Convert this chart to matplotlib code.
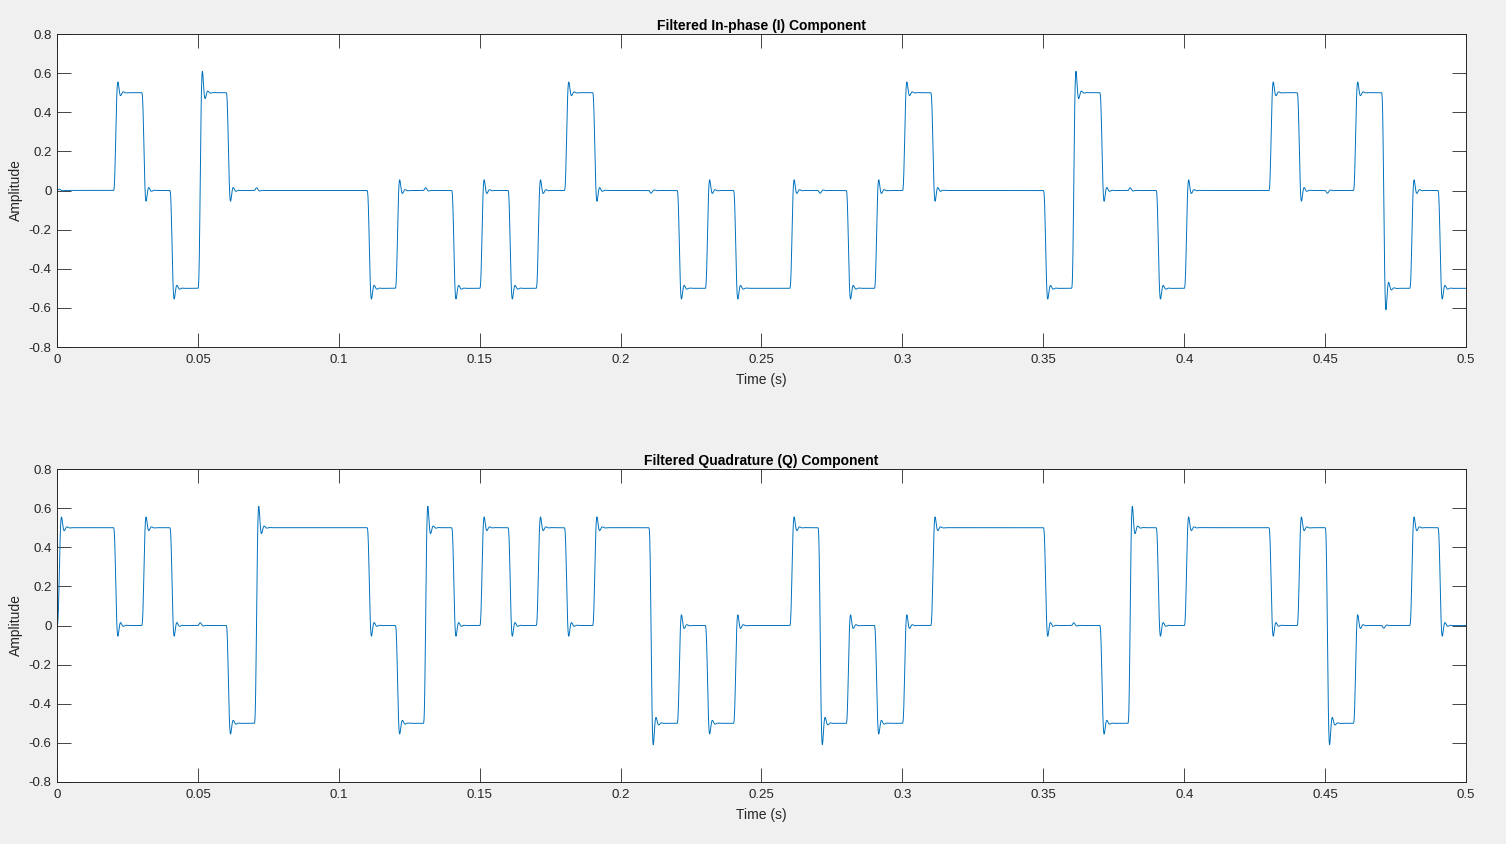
import numpy as np
import matplotlib.pyplot as plt

plt.rcParams['font.family'] = ['Liberation Sans', 'DejaVu Sans']

# symbol levels, one per 10 ms slot
symbol_period = 0.01
i_symbols = [0, 0, 0.5, 0, -0.5, 0.5, 0, 0, 0, 0,
             0, -0.5, 0, 0, -0.5, 0, -0.5, 0, 0.5, 0,
             0, 0, -0.5, 0, -0.5, -0.5, 0, 0, -0.5, 0,
             0.5, 0, 0, 0, 0, -0.5, 0.5, 0, 0, -0.5,
             0, 0, 0, 0.5, 0, 0, 0.5, -0.5, 0, -0.5]
q_symbols = [0.5, 0.5, 0, 0.5, 0, 0, -0.5, 0.5, 0.5, 0.5,
             0.5, 0, -0.5, 0.5, 0, 0.5, 0, 0.5, 0, 0.5,
             0.5, -0.5, 0, -0.5, 0, 0, 0.5, -0.5, 0, -0.5,
             0, 0.5, 0.5, 0.5, 0.5, 0, 0, -0.5, 0.5, 0,
             0.5, 0.5, 0.5, 0, 0.5, -0.5, 0, 0, 0.5, 0]

fs = 20000
fc = 550
order = 4
crosstalk_peak = 0.014


# ------------------------------------------------------------
# lowpass (butterworth via bilinear transform, biquad cascade)
# ------------------------------------------------------------
def butter_sections(order, fc, fs):
    wc = 2 * fs * np.tan(np.pi * fc / fs)
    sections = []
    for k in range(order // 2):
        theta = np.pi * (2 * k + 1 + order) / (2 * order)
        p = wc * np.exp(1j * theta)
        zp = (1 + p / (2 * fs)) / (1 - p / (2 * fs))
        a = np.real(np.poly([zp, np.conj(zp)]))
        b = np.array([1.0, 2.0, 1.0])
        b = b * a.sum() / b.sum()
        sections.append((b, a))
    return sections


def run_filter(x, sections):
    y = np.asarray(x, dtype=float)
    for b, a in sections:
        out = np.zeros_like(y)
        x1 = x2 = y1 = y2 = 0.0
        for n in range(len(y)):
            v = b[0] * y[n] + b[1] * x1 + b[2] * x2 - a[1] * y1 - a[2] * y2
            x2, x1 = x1, y[n]
            y2, y1 = y1, v
            out[n] = v
        y = out
    return y


sections = butter_sections(order, fc, fs)
spb = int(round(symbol_period * fs))
t = np.arange(len(i_symbols) * spb + 1) / fs

i_raw = np.append(np.repeat(i_symbols, spb), i_symbols[-1])
q_raw = np.append(np.repeat(q_symbols, spb), q_symbols[-1])

i_filt = run_filter(i_raw, sections)
q_filt = run_filter(q_raw, sections)

# small leakage between branches at the big symbol flips
step_resp = run_filter(np.ones(spb), sections)
k = crosstalk_peak / np.max(np.diff(step_resp))
i_out = i_filt + k * np.gradient(q_filt)
q_out = q_filt + k * np.gradient(i_filt)

# ------------------------------------------------------------
# plot
# ------------------------------------------------------------
fig = plt.figure(figsize=(15.06, 8.44), dpi=100, facecolor='#f0f0f0')
ax1 = fig.add_axes([57 / 1506, 1 - 347 / 844, 1409 / 1506, 313 / 844])
ax2 = fig.add_axes([57 / 1506, 1 - 782 / 844, 1409 / 1506, 313 / 844])

panels = [(ax1, i_out, 'Filtered In-phase (I) Component'),
          (ax2, q_out, 'Filtered Quadrature (Q) Component')]

for ax, sig, title in panels:
    ax.plot(t, sig, color='#0072BD', linewidth=0.7)
    ax.set_xlim(0, 0.5)
    ax.set_ylim(-0.8, 0.8)
    ax.set_xticks(np.arange(0, 0.501, 0.05))
    ax.set_xticklabels(['0', '0.05', '0.1', '0.15', '0.2', '0.25', '0.3',
                        '0.35', '0.4', '0.45', '0.5'])
    ax.set_yticks(np.arange(-0.8, 0.801, 0.2))
    ax.set_yticklabels(['-0.8', '-0.6', '-0.4', '-0.2', '0', '0.2', '0.4',
                        '0.6', '0.8'])
    ax.tick_params(direction='in', length=10, width=0.6, colors='#262626',
                   labelsize=9.5, top=True, right=True, pad=4)
    ax.tick_params(axis='x', pad=5)
    for s in ax.spines.values():
        s.set_color('#262626')
        s.set_linewidth(0.7)
    ax.set_title(title, fontsize=10, fontweight='bold', color='black', pad=3)
    ax.set_xlabel('Time (s)', fontsize=10, color='#262626', labelpad=5)
    ax.set_ylabel('Amplitude', fontsize=10, color='#262626', labelpad=4)

fig.savefig('out.png', dpi=100, facecolor=fig.get_facecolor())
